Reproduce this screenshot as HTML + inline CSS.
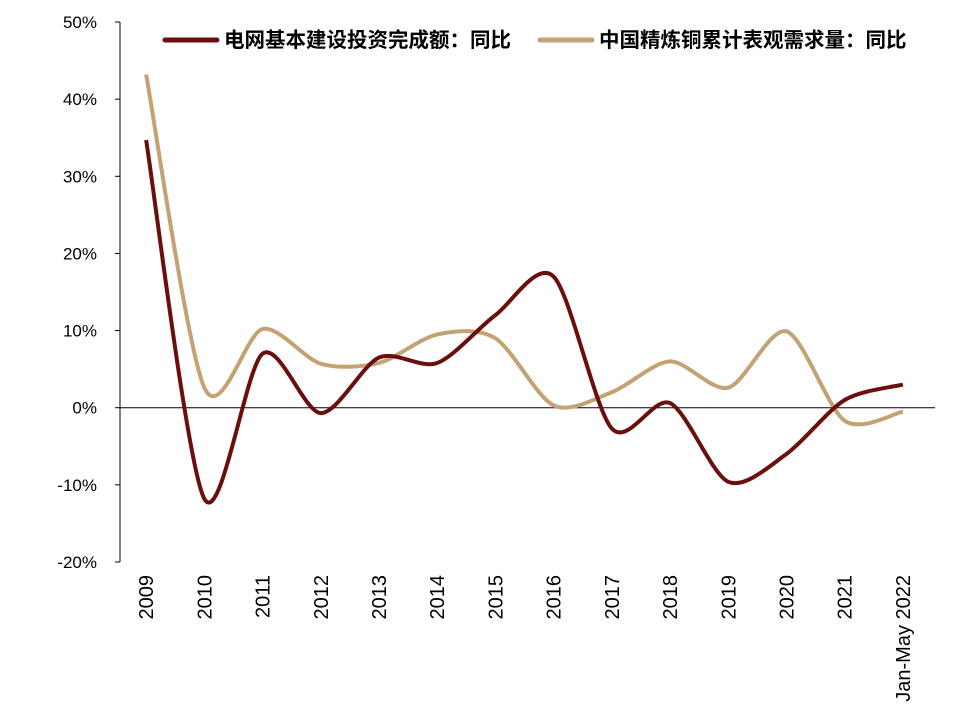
<!DOCTYPE html>
<html><head><meta charset="utf-8"><style>
body{margin:0;background:#fff}
svg{display:block}
text{font-family:"Liberation Sans","Noto Sans CJK SC",sans-serif;fill:#000}
</style></head><body>
<svg id="chart" width="966" height="720"></svg>
<script>
const categories=["2009","2010","2011","2012","2013","2014","2015","2016","2017","2018","2019","2020","2021","Jan-May 2022"];
const gridInvest=[34.7,-11.8,7.0,-0.7,6.5,5.8,12.0,17.0,-2.7,0.6,-9.6,-6.0,1.0,3.0];
const copperDemand=[43.2,2.6,10.2,5.7,5.8,9.5,9.0,0.3,2.0,6.0,2.6,9.9,-1.7,-0.5];
const yTicks=[50,40,30,20,10,0,-10,-20];
const seriesNames=["电网基本建设投资完成额：同比","中国精炼铜累计表观需求量：同比"];

const NS="http://www.w3.org/2000/svg";
const svg=document.getElementById('chart');
const X0=120,X1=935,Y0=22,Y1=562,YMAX=50,YMIN=-20;
const band=(X1-X0)/categories.length;
function x(i){return X0+band*(i+0.5)-3;}
function y(v){return Y0+(YMAX-v)/(YMAX-YMIN)*(Y1-Y0);}
function mk(tag,attrs){const e=document.createElementNS(NS,tag);for(const k in attrs)e.setAttribute(k,attrs[k]);svg.appendChild(e);return e;}

let ax=mk('line',{x1:X0,y1:Y0,x2:X0,y2:Y1,stroke:'#000','stroke-width':1});


yTicks.forEach(t=>{
  const tk=mk('line',{x1:X0-5,x2:X0,y1:y(t),y2:y(t),stroke:'#000'});
  
  
  const tx=mk('text',{x:97,y:y(t)+6,'text-anchor':'end','font-size':17});
  tx.textContent=t+'%';
  
  
});
let xa=mk('line',{x1:X0,y1:y(0),x2:X1,y2:y(0),stroke:'#000','stroke-width':1});


categories.forEach((c,i)=>{
  const tx=mk('text',{transform:`translate(${x(i)+7},575) rotate(-90)`,'text-anchor':'end','font-size':20});
  tx.textContent=c;
  
  
});
function smooth(vals){
  const p=vals.map((v,i)=>[x(i),y(v)]);
  let d=`M${p[0][0]},${p[0][1]}`;
  const f=7;
  for(let i=0;i<p.length-1;i++){
    const a=p[i-1]||p[i],b=p[i],c=p[i+1],e=p[i+2]||c;
    d+=` C${b[0]+(c[0]-a[0])/f},${b[1]+(c[1]-a[1])/f} ${c[0]-(e[0]-b[0])/f},${c[1]-(e[1]-b[1])/f} ${c[0]},${c[1]}`;
  }
  return d;
}
const colors=["#6b0e0e","#c4a273"];
[copperDemand,gridInvest].forEach((s,k)=>{
  const idx=k===0?1:0;
  const pth=mk('path',{d:smooth(s),fill:'none',stroke:colors[idx],'stroke-width':4,'stroke-linejoin':'round'});
  
  
});
const legX=[165,540];
seriesNames.forEach((n,i)=>{
  const l=mk('line',{x1:legX[i],x2:legX[i]+52,y1:40,y2:40,stroke:colors[i],'stroke-width':5,'stroke-linecap':'round'});
  
  
  const t=mk('text',{x:legX[i]+59,y:47,'font-size':20.5,'font-weight':'bold'});
  t.textContent=n;
  
  
});
</script>
</body></html>
